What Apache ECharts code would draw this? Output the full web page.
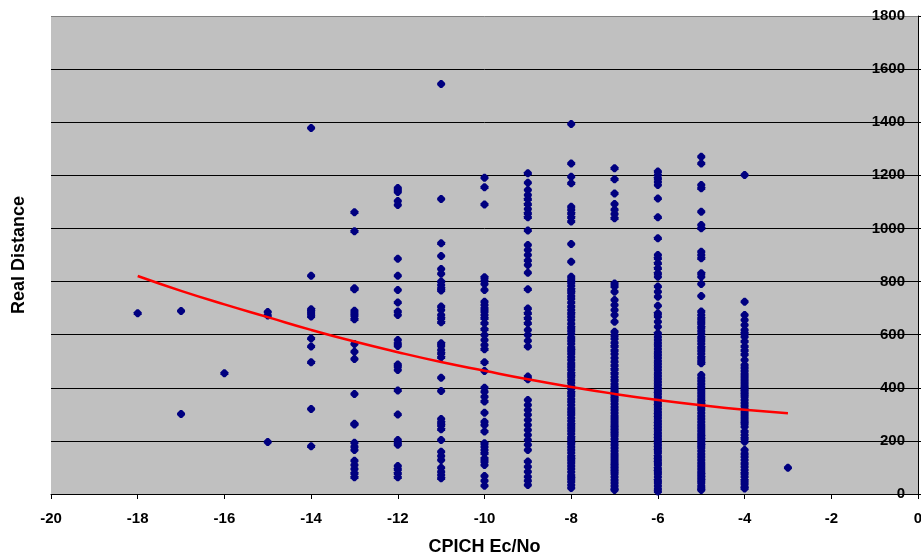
<!DOCTYPE html>
<html>
<head>
<meta charset="utf-8">
<script src="https://cdn.jsdelivr.net/npm/echarts@6/dist/echarts.min.js"></script>
<style>
  html, body { margin: 0; padding: 0; background: #fff; }
  #chart { width: 921px; height: 558px; }
</style>
</head>
<body>
<div id="chart"></div>
<script>
// x ticks / y ticks
const xTicks = [-20, -18, -16, -14, -12, -10, -8, -6, -4, -2, 0]
const yTicks = [0, 200, 400, 600, 800, 1000, 1200, 1400, 1600, 1800]

// Real Distance values read per CPICH Ec/No column
const col18 = [681]
const col17 = [689, 301]
const col16 = [455]
const col15 = [685, 672, 196]
const col14 = [1378, 822, 696, 687, 678, 668, 586, 555, 496, 320, 180]
const col13 = [1061, 989, 775, 771, 690, 680, 670, 658, 565, 536, 508, 377, 265, 262, 193, 178, 166, 125, 109, 94, 78, 63]
const col12 = [1152, 1145, 1137, 1103, 1088, 886, 822, 768, 721, 687, 674, 580, 567, 557, 488, 479, 467, 390, 299, 203, 193, 185, 105, 93, 78, 63]
const col11 = [1544, 1111, 944, 896, 847, 829, 800, 787, 775, 766, 706, 693, 674, 662, 647, 568, 557, 542, 530, 515, 438, 388, 282, 270, 259, 244, 203, 159, 143, 128, 99, 84, 72, 59]
const col10 = [1191, 1155, 1090, 816, 803, 791, 768, 724, 712, 699, 687, 674, 662, 643, 620, 599, 580, 561, 545, 496, 463, 400, 385, 366, 348, 306, 272, 260, 235, 191, 178, 166, 153, 134, 122, 109, 68, 50, 31]
const col9 = [1208, 1172, 1145, 1126, 1110, 1091, 1073, 1057, 1042, 992, 938, 919, 900, 879, 862, 833, 771, 699, 681, 662, 643, 618, 599, 577, 555, 442, 432, 354, 335, 316, 298, 279, 260, 241, 222, 203, 185, 166, 122, 103, 84, 65, 50, 34]
const col8 = [1393, 1245, 1195, 1170, 1082, 1070, 1057, 1042, 1026, 941, 875, 818, 808, 797, 784, 771, 760, 746, 735, 721, 706, 693, 681, 667, 655, 641, 628, 616, 603, 589, 578, 566, 552, 541, 529, 516, 505, 491, 480, 468, 455, 443, 430, 419, 407, 396, 383, 371, 358, 347, 335, 322, 311, 299, 286, 275, 263, 250, 239, 227, 214, 203, 191, 178, 167, 155, 142, 131, 119, 106, 95, 83, 70, 59, 47, 34, 23]
const col7 = [1227, 1185, 1132, 1092, 1070, 1054, 1038, 793, 781, 762, 731, 712, 693, 674, 649, 611, 598, 585, 570, 556, 540, 527, 512, 498, 484, 470, 455, 441, 428, 414, 404, 394, 383, 372, 361, 350, 339, 328, 317, 306, 295, 284, 273, 262, 251, 240, 229, 218, 207, 196, 185, 174, 163, 152, 141, 130, 119, 108, 97, 86, 75, 64, 53, 42, 31, 20, 15]
const col6 = [1214, 1201, 1189, 1176, 1164, 1113, 1042, 963, 900, 888, 869, 850, 831, 818, 781, 762, 743, 709, 681, 668, 649, 630, 605, 592, 581, 570, 559, 547, 536, 525, 514, 502, 491, 480, 469, 457, 446, 435, 424, 412, 401, 390, 379, 367, 356, 345, 334, 322, 311, 300, 289, 277, 266, 255, 244, 232, 221, 210, 199, 187, 176, 165, 154, 142, 131, 120, 109, 97, 86, 75, 64, 52, 41, 30, 19, 9]
const col5 = [1270, 1245, 1164, 1151, 1063, 1013, 1001, 912, 900, 888, 831, 818, 791, 746, 687, 674, 662, 650, 640, 628, 615, 603, 590, 578, 566, 553, 540, 528, 515, 503, 492, 448, 437, 426, 415, 404, 393, 382, 371, 360, 349, 338, 327, 316, 305, 294, 283, 272, 261, 250, 239, 228, 217, 206, 195, 184, 173, 162, 151, 140, 129, 118, 107, 96, 85, 74, 63, 52, 41, 30, 21, 15]
const col4 = [1201, 724, 674, 655, 636, 618, 605, 592, 574, 555, 540, 525, 505, 486, 475, 464, 453, 442, 431, 420, 409, 398, 387, 376, 365, 354, 343, 332, 321, 310, 299, 288, 277, 266, 253, 235, 222, 210, 197, 166, 152, 140, 128, 115, 103, 90, 78, 65, 52, 40, 27, 21]
const col3 = [99]

const columns = [
  [-18, col18], [-17, col17], [-16, col16], [-15, col15], [-14, col14], [-13, col13],
  [-12, col12], [-11, col11], [-10, col10], [-9, col9], [-8, col8], [-7, col7],
  [-6, col6], [-5, col5], [-4, col4], [-3, col3],
]

// red trend curve
const trendX = [-18, -17, -16, -15, -14, -13, -12, -11, -10, -9, -8, -7, -6, -5, -4, -3]
const trendY = [821, 765, 714, 666, 618, 574, 534, 497, 464, 432, 403, 377, 354, 334, 317, 304]

const points = []
columns.forEach(([x, ys]) => ys.forEach(y => points.push([x, y])))

const font = '"Liberation Sans", Arial, sans-serif'
// blunt excel-like diamond
const diamond = 'path://M3,0L5,0L8,3L8,5L5,8L3,8L0,5L0,3Z'

const chart = echarts.init(document.getElementById('chart'), null, { renderer: 'canvas' })
chart.setOption({
  animation: false,
  backgroundColor: '#ffffff',
  grid: {
    left: 51,
    right: 3,
    top: 16,
    bottom: 64,
    containLabel: false,
    outerBoundsMode: 'none',
    show: true,
    backgroundColor: '#c0c0c0',
    borderWidth: 0,
  },
  xAxis: {
    type: 'value',
    min: xTicks[0],
    max: xTicks[xTicks.length - 1],
    interval: 2,
    name: 'CPICH Ec/No',
    nameLocation: 'middle',
    nameGap: 44,
    nameTextStyle: { fontFamily: font, fontWeight: 'bold', fontSize: 18, color: '#000' },
    axisLine: { onZero: false, lineStyle: { color: '#000', width: 1 } },
    axisTick: { length: 5, lineStyle: { color: '#000' } },
    axisLabel: { margin: 17, fontFamily: font, fontWeight: 'bold', fontSize: 15, color: '#000' },
    splitLine: { show: false },
  },
  yAxis: [
    {
      type: 'value',
      position: 'right',
      min: yTicks[0],
      max: yTicks[yTicks.length - 1],
      interval: 200,
      axisLine: { show: true, lineStyle: { color: '#000', width: 1 } },
      axisTick: { show: true, length: 5, lineStyle: { color: '#000' } },
      axisLabel: {
        inside: true,
        margin: 13,
        formatter: v => String(v),
        fontFamily: font,
        fontWeight: 'bold',
        fontSize: 15,
        color: '#000',
      },
      splitLine: {
        show: true,
        lineStyle: {
          color: ['#000', '#000', '#000', '#000', '#000', '#000', '#000', '#000', '#000', '#808080'],
          width: 1,
        },
      },
    },
    {
      type: 'value',
      position: 'left',
      min: 0,
      max: 1800,
      name: 'Real Distance',
      nameLocation: 'middle',
      nameGap: 23,
      nameTextStyle: { fontFamily: font, fontWeight: 'bold', fontSize: 18, color: '#000' },
      axisLine: { show: false },
      axisTick: { show: false },
      axisLabel: { show: false },
      splitLine: { show: false },
    },
  ],
  series: [
    {
      type: 'scatter',
      data: points,
      symbol: diamond,
      symbolSize: 8,
      itemStyle: { color: '#000080', opacity: 1 },
    },
    {
      type: 'line',
      data: trendX.map((x, i) => [x, trendY[i]]),
      smooth: true,
      showSymbol: false,
      lineStyle: { color: '#ff0000', width: 2.5 },
      z: 3,
    },
  ],
})
</script>
</body>
</html>
